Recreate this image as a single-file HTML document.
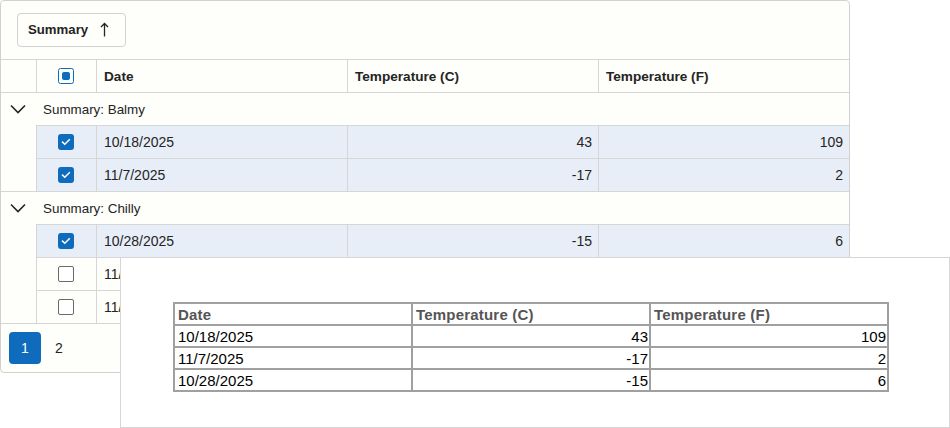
<!DOCTYPE html>
<html><head><meta charset="utf-8">
<style>
*{box-sizing:border-box;margin:0;padding:0}
html,body{width:950px;height:428px;background:#fff;overflow:hidden;font-family:"Liberation Sans",sans-serif;color:#242424}
.abs{position:absolute}
#grid{position:absolute;left:0;top:0;width:850px;height:373px;border:1px solid #d1d1d1;border-radius:4px;background:#fefefa}
.btn{position:absolute;left:16px;top:12px;width:109px;height:34px;border:1px solid #d1d1d1;border-radius:4px;background:#fefefa}
.hl{position:absolute;height:1px;background:#d6d6d6}
.vl{position:absolute;width:1px;background:#d6d6d6}
.sel{position:absolute;background:#e8eef8}
.t{position:absolute;font-size:14px;line-height:16px;white-space:nowrap}
.b{font-weight:700}
.cb{position:absolute;width:16px;height:16px;border-radius:3px}
.cb.on{background:#0f6cbd}
.cb.off{border:1px solid #6a6a6a;background:#fff;border-radius:2px}
.cb svg{position:absolute;left:0;top:0}
#ov{position:absolute;left:120px;top:257px;width:830px;height:171px;background:#fff;border:1px solid #d6d6d6}
#pt{position:absolute;left:173px;top:302px;border-collapse:collapse;font-family:"Liberation Sans",sans-serif;font-size:15px;color:#000}
#pt td,#pt th{border:2px solid #a0a0a0;height:22px;padding:1px 1px 0 3px;width:238px;line-height:18px}
#pt th{text-align:left;color:#555;font-weight:700;letter-spacing:0.2px}
#pt td.r{text-align:right}
</style></head><body>
<div id="grid">
  <div class="btn"></div>
</div>
<!-- header lines -->
<div class="hl" style="left:1px;top:59px;width:848px"></div>
<div class="hl" style="left:1px;top:92px;width:848px"></div>
<div class="vl" style="left:36px;top:59px;height:34px"></div>
<div class="vl" style="left:96px;top:59px;height:34px"></div>
<div class="vl" style="left:347px;top:59px;height:34px"></div>
<div class="vl" style="left:598px;top:59px;height:34px"></div>

<!-- selected rows bg -->
<div class="sel" style="left:37px;top:126px;width:812px;height:65px"></div>
<div class="sel" style="left:37px;top:225px;width:812px;height:32px"></div>

<!-- row lines -->
<div class="hl" style="left:36px;top:125px;width:813px"></div>
<div class="hl" style="left:36px;top:158px;width:813px"></div>
<div class="hl" style="left:1px;top:191px;width:848px"></div>
<div class="hl" style="left:36px;top:224px;width:813px"></div>
<div class="hl" style="left:36px;top:257px;width:813px"></div>
<div class="hl" style="left:36px;top:290px;width:813px"></div>
<div class="hl" style="left:1px;top:323px;width:848px"></div>
<!-- vertical lines data rows -->
<div class="vl" style="left:36px;top:125px;height:66px"></div>
<div class="vl" style="left:96px;top:125px;height:66px"></div>
<div class="vl" style="left:347px;top:125px;height:66px"></div>
<div class="vl" style="left:598px;top:125px;height:66px"></div>
<div class="vl" style="left:36px;top:224px;height:99px"></div>
<div class="vl" style="left:96px;top:224px;height:99px"></div>
<div class="vl" style="left:347px;top:224px;height:99px"></div>
<div class="vl" style="left:598px;top:224px;height:99px"></div>

<!-- toolbar button text -->
<div class="t b" style="left:28px;top:22px;font-size:13.2px">Summary</div>
<svg class="abs" style="left:96px;top:20px" width="16" height="20" viewBox="0 0 16 20"><path d="M8.5 3.4V16.6M5 7L8.5 3.5L12 7" fill="none" stroke="#242424" stroke-width="1.3"/></svg>

<!-- header texts -->
<div class="cb" style="left:58px;top:68px;border:1px solid #0f6cbd;border-radius:2.5px"><div style="position:absolute;left:3px;top:3px;width:8px;height:8px;background:#0f6cbd;border-radius:2px"></div></div>
<div class="t b" style="left:104px;top:68.5px;font-size:13.6px">Date</div>
<div class="t b" style="left:355px;top:68.5px;font-size:13.6px">Temperature (C)</div>
<div class="t b" style="left:606px;top:68.5px;font-size:13.6px">Temperature (F)</div>

<!-- group 1 -->
<svg class="abs" style="left:9px;top:101px" width="18" height="16" viewBox="0 0 18 16"><path d="M2 4.5L9 11.5L16 4.5" fill="none" stroke="#242424" stroke-width="1.6"/></svg>
<div class="t" style="left:43px;top:101.5px;font-size:13.4px">Summary: Balmy</div>
<!-- row 1 -->
<div class="cb on" style="left:58px;top:134px"><svg width="16" height="16"><path d="M4 7.6L6.8 10.2L11.8 5.2" fill="none" stroke="#fff" stroke-width="1.5"/></svg></div>
<div class="t" style="left:104px;top:134px">10/18/2025</div>
<div class="t" style="right:358px;top:134px">43</div>
<div class="t" style="right:107px;top:134px">109</div>
<!-- row 2 -->
<div class="cb on" style="left:58px;top:167px"><svg width="16" height="16"><path d="M4 7.6L6.8 10.2L11.8 5.2" fill="none" stroke="#fff" stroke-width="1.5"/></svg></div>
<div class="t" style="left:104px;top:167px">11/7/2025</div>
<div class="t" style="right:358px;top:167px">-17</div>
<div class="t" style="right:107px;top:167px">2</div>

<!-- group 2 -->
<svg class="abs" style="left:9px;top:200px" width="18" height="16" viewBox="0 0 18 16"><path d="M2 4.5L9 11.5L16 4.5" fill="none" stroke="#242424" stroke-width="1.6"/></svg>
<div class="t" style="left:43px;top:200.5px;font-size:13.4px">Summary: Chilly</div>
<!-- row 3 -->
<div class="cb on" style="left:58px;top:233px"><svg width="16" height="16"><path d="M4 7.6L6.8 10.2L11.8 5.2" fill="none" stroke="#fff" stroke-width="1.5"/></svg></div>
<div class="t" style="left:104px;top:233px">10/28/2025</div>
<div class="t" style="right:358px;top:233px">-15</div>
<div class="t" style="right:107px;top:233px">6</div>
<!-- row 4 -->
<div class="cb off" style="left:58px;top:266px"></div>
<div class="t" style="left:104px;top:266px">11/</div>
<!-- row 5 -->
<div class="cb off" style="left:58px;top:299px"></div>
<div class="t" style="left:104px;top:299px">11/</div>

<!-- pager -->
<div class="abs" style="left:9px;top:332px;width:32px;height:32px;background:#0f6cbd;border-radius:4px"></div>
<div class="t" style="left:21px;top:340px;color:#fff">1</div>
<div class="t" style="left:55px;top:340px">2</div>

<!-- overlay -->
<div id="ov"></div>
<table id="pt">
<tr><th>Date</th><th>Temperature (C)</th><th>Temperature (F)</th></tr>
<tr><td>10/18/2025</td><td class="r">43</td><td class="r">109</td></tr>
<tr><td>11/7/2025</td><td class="r">-17</td><td class="r">2</td></tr>
<tr><td>10/28/2025</td><td class="r">-15</td><td class="r">6</td></tr>
</table>
</body></html>
